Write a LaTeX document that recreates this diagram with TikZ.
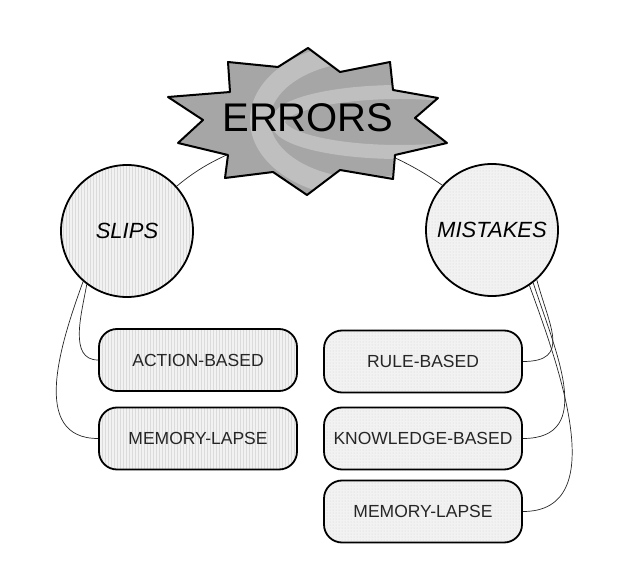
\documentclass[tikz,border=0pt]{standalone}
\usepackage{fontspec}
\setmainfont{Liberation Sans}
\usetikzlibrary{patterns,backgrounds}

\definecolor{starbase}{gray}{0.65}
\definecolor{starlight}{gray}{0.75}
\newcommand{\errstar}{(308,528) -- (340,504) -- (390,514) -- (393,486) -- (438,478) -- (415,458) -- (447,433) -- (395,421) -- (393,397) -- (340,406) -- (307,381) -- (273,404) -- (225,398) -- (228,421) -- (178,433) -- (203,456) -- (168,479) -- (230,484) -- (228,514) -- (278,509) -- cycle}

\begin{document}
\begin{tikzpicture}[x=1pt, y=1pt,
  bubble/.style={circle, draw=black, line width=1.8pt, minimum size=132pt, inner sep=0pt, font=\fontsize{22}{24}\selectfont\itshape},
  tag/.style={rectangle, rounded corners=18pt, draw=black, line width=1.8pt, minimum width=198pt, minimum height=62pt, text=black!85, font=\fontsize{17.5}{20}\selectfont},
  stripes/.style={preaction={fill=black!5}, pattern=vertical lines, pattern color=black!14},
  speckle/.style={preaction={fill=black!5}, pattern=dots, pattern color=black!18},
  link/.style={line width=0.7pt, draw=black!85}]

\useasboundingbox (0,0) rectangle (634,576);

\begin{scope}
\clip \errstar;
\fill[starbase] (160,370) rectangle (460,540);
\draw[line width=20pt, starlight] (365,456) ellipse [x radius=105, y radius=68];
\draw[line width=14pt, starlight] (400,454) ellipse [x radius=122, y radius=30];
\end{scope}
\draw[line width=2pt, line join=round] \errstar;
\node[font=\fontsize{40}{44}\selectfont] (errors) at (308,458) {ERRORS};

\node[bubble, stripes] (slips) at (127,345) {SLIPS};
\node[bubble, speckle] (mistakes) at (492,346) {MISTAKES};

\node[tag, stripes] (action) at (198,216) {ACTION-BASED};
\node[tag, stripes] (lapseA) at (198,137.5) {MEMORY-LAPSE};

\node[tag, speckle] (rule) at (423,214.5) {RULE-BASED};
\node[tag, speckle] (knowledge) at (423,137.5) {KNOWLEDGE-BASED};
\node[tag, speckle] (lapseB) at (423,64.5) {MEMORY-LAPSE};

\begin{pgfonlayer}{background}
\draw[link] (slips.42) to[out=40, in=205] (errors);
\draw[link] (mistakes.138) to[out=145, in=-25] (errors);
\draw[link] (slips.233) to[out=-100, in=180] (action.west);
\draw[link] (slips.229) to[out=-110, in=180, looseness=1.1] (lapseA.west);
\draw[link] (mistakes.-48) to[out=-75, in=0, looseness=1.5] (rule.east);
\draw[link] (mistakes.-52) to[out=-72, in=0, looseness=1.2] (knowledge.east);
\draw[link] (mistakes.-56) to[out=-70, in=0] (lapseB.east);
\end{pgfonlayer}
\end{tikzpicture}
\end{document}
